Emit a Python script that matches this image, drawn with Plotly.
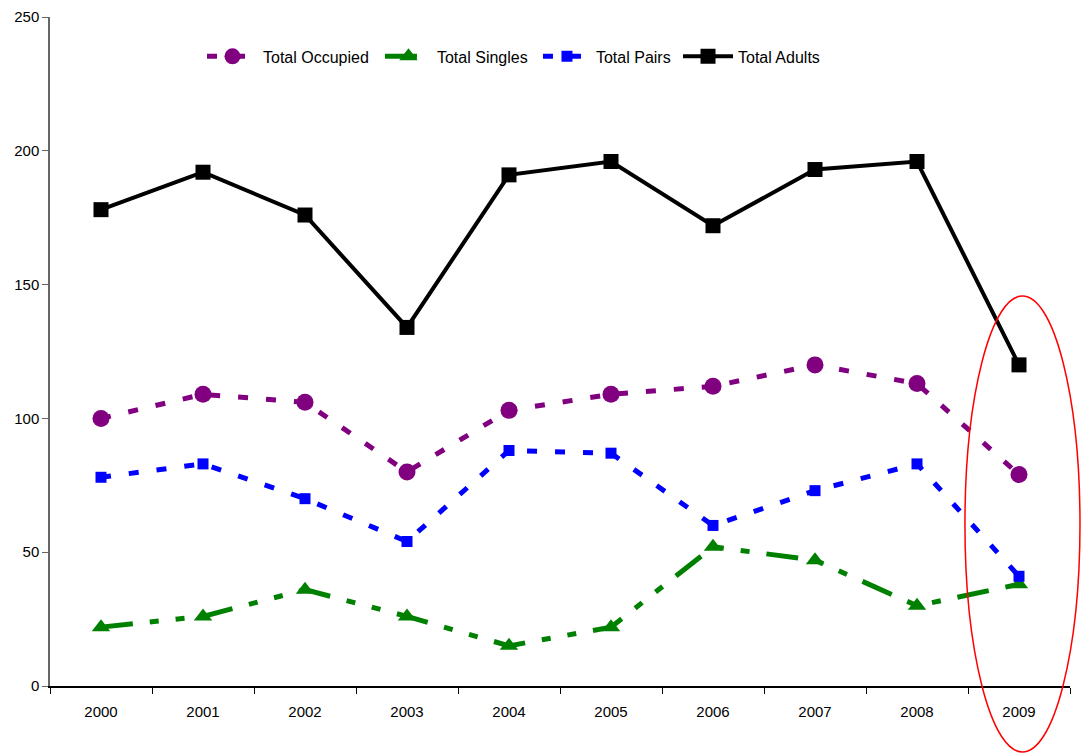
import plotly.graph_objects as go

years = ["2000", "2001", "2002", "2003", "2004", "2005", "2006", "2007", "2008", "2009"]
total_occupied = [100, 109, 106, 80, 103, 109, 112, 120, 113, 79]
total_singles = [22, 26, 36, 26, 15, 22, 52, 47, 30, 38]
total_pairs = [78, 83, 70, 54, 88, 87, 60, 73, 83, 41]
total_adults = [178, 192, 176, 134, 191, 196, 172, 193, 196, 120]

fig = go.Figure()
fig.add_trace(go.Scatter(x=years, y=total_occupied, name="Total Occupied", mode="lines+markers",
                         legend="legend",
                         line=dict(color="#800080", width=5, dash="10px,18px"),
                         marker=dict(symbol="circle", size=17, color="#800080")))
fig.add_trace(go.Scatter(x=years, y=total_singles, name="Total Singles", mode="lines+markers",
                         legend="legend2",
                         line=dict(color="#008000", width=5, dash="32px,17px,9px,17px,9px,17px"),
                         marker=dict(symbol="triangle-up", size=16, color="#008000")))
fig.add_trace(go.Scatter(x=years, y=total_pairs, name="Total Pairs", mode="lines+markers",
                         legend="legend3",
                         line=dict(color="#0000FF", width=5, dash="10px,18px"),
                         marker=dict(symbol="square", size=11, color="#0000FF")))
fig.add_trace(go.Scatter(x=years, y=total_adults, name="Total Adults", mode="lines+markers",
                         legend="legend4",
                         line=dict(color="#000000", width=4),
                         marker=dict(symbol="square", size=15, color="#000000")))

fig.add_shape(type="circle", xref="paper", yref="paper",
              x0=0.897, x1=1.0098, y0=-0.0987, y1=0.583,
              line=dict(color="#FF0000", width=1.5), layer="above")

leg_common = dict(orientation="h", y=0.941, xanchor="left", yanchor="middle",
                  bgcolor="rgba(0,0,0,0)", font=dict(size=16, color="black"))

fig.update_layout(
    width=1081, height=753,
    margin=dict(l=50, r=11, t=17, b=67),
    paper_bgcolor="white", plot_bgcolor="white",
    font=dict(family="Liberation Sans, Arial, sans-serif", size=15, color="black"),
    showlegend=True,
    legend=dict(x=0.149, itemwidth=51, **leg_common),
    legend2=dict(x=0.3235, itemwidth=47, **leg_common),
    legend3=dict(x=0.4784, itemwidth=48, **leg_common),
    legend4=dict(x=0.6157, itemwidth=50, **leg_common),
    xaxis=dict(type="category", tickson="boundaries", ticks="outside", ticklen=6,
               tickcolor="black", showline=True, linecolor="black", linewidth=1.5,
               showgrid=False, zeroline=False, range=[-0.5, 9.5], ticklabelstandoff=11,
               automargin=False),
    yaxis=dict(range=[0, 250], tickvals=[0, 50, 100, 150, 200, 250], ticks="outside",
               ticklen=6, tickcolor="#666", showline=True, linecolor="#666", linewidth=1.5,
               showgrid=False, zeroline=False, automargin=False),
)

fig.write_html("out.html")
